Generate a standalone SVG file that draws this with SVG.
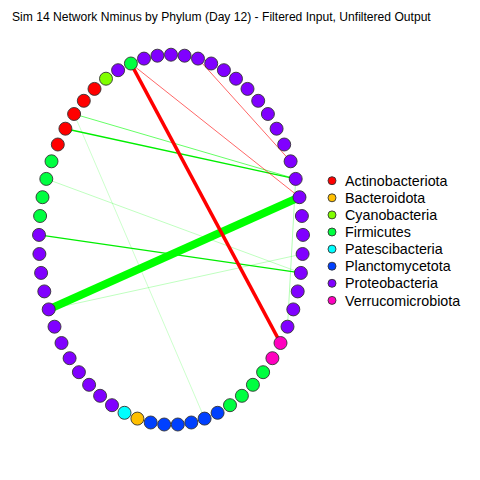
<svg xmlns="http://www.w3.org/2000/svg" width="480" height="480" viewBox="0 0 480 480">
<style>
text{font-family:"Liberation Sans",Arial,sans-serif;fill:#000}
.title{font-size:12.1px}
.leg{font-size:14.3px}
.n circle{stroke:#333;stroke-width:0.9}
.A{fill:#FF0000}.B{fill:#FFBF00}.C{fill:#80FF00}.F{fill:#00FF40}.P{fill:#00FFFF}.L{fill:#0040FF}.R{fill:#8000FF}.V{fill:#FF00BF}
.e{fill:none;stroke-linecap:butt}
</style>
<rect width="480" height="480" fill="#fff"/>
<text class="title" x="12" y="21">Sim 14 Network Nminus by Phylum (Day 12) - Filtered Input, Unfiltered Output</text>
<g id="edges">
<line class="e" x1="74.1" y1="114.0" x2="204.6" y2="418.6" stroke="#00FF00" stroke-opacity="0.2" stroke-width="1"/>
<line class="e" x1="46.3" y1="178.9" x2="300.9" y2="272.9" stroke="#00FF00" stroke-opacity="0.25" stroke-width="1"/>
<line class="e" x1="48.7" y1="309.4" x2="302.6" y2="254.0" stroke="#00FF00" stroke-opacity="0.25" stroke-width="1"/>
<line class="e" x1="295.7" y1="178.9" x2="287.5" y2="326.7" stroke="#00FF00" stroke-opacity="0.3" stroke-width="1"/>
<line class="e" x1="74.1" y1="114.0" x2="295.7" y2="178.9" stroke="#00FF00" stroke-opacity="0.6" stroke-width="1"/>
<line class="e" x1="65.4" y1="128.7" x2="295.7" y2="178.9" stroke="#00EE00" stroke-width="1.4"/>
<line class="e" x1="39.0" y1="234.9" x2="300.9" y2="272.9" stroke="#00EE00" stroke-width="1.4"/>
<line class="e" x1="198.0" y1="58.6" x2="290.6" y2="161.3" stroke="#FF0000" stroke-opacity="0.75" stroke-width="0.8"/>
<line class="e" x1="130.9" y1="63.5" x2="299.5" y2="197.2" stroke="#FF0000" stroke-opacity="0.75" stroke-width="0.8"/>
<line class="e" x1="48.7" y1="309.4" x2="299.5" y2="197.2" stroke="#00FF00" stroke-width="8"/>
<line class="e" x1="130.9" y1="63.5" x2="280.5" y2="343.0" stroke="#FF0000" stroke-width="3.6"/>
</g>
<g id="nodes" class="n">
<g id="n0"><circle class="R" cx="171.0" cy="54.7" r="6.5"/></g>
<g id="n1"><circle class="R" cx="184.6" cy="55.7" r="6.5"/></g>
<g id="n2"><circle class="R" cx="198.0" cy="58.6" r="6.5"/></g>
<g id="n3"><circle class="R" cx="211.2" cy="63.5" r="6.5"/></g>
<g id="n4"><circle class="R" cx="223.9" cy="70.2" r="6.5"/></g>
<g id="n5"><circle class="R" cx="236.0" cy="78.7" r="6.5"/></g>
<g id="n6"><circle class="R" cx="247.5" cy="88.9" r="6.5"/></g>
<g id="n7"><circle class="R" cx="258.2" cy="100.8" r="6.5"/></g>
<g id="n8"><circle class="R" cx="267.9" cy="114.0" r="6.5"/></g>
<g id="n9"><circle class="R" cx="276.6" cy="128.7" r="6.5"/></g>
<g id="n10"><circle class="R" cx="284.2" cy="144.5" r="6.5"/></g>
<g id="n11"><circle class="R" cx="290.6" cy="161.3" r="6.5"/></g>
<g id="n12"><circle class="R" cx="295.7" cy="178.9" r="6.5"/></g>
<g id="n13"><circle class="R" cx="299.5" cy="197.2" r="6.5"/></g>
<g id="n14"><circle class="R" cx="301.9" cy="216.0" r="6.5"/></g>
<g id="n15"><circle class="R" cx="303.0" cy="234.9" r="6.5"/></g>
<g id="n16"><circle class="R" cx="302.6" cy="254.0" r="6.5"/></g>
<g id="n17"><circle class="R" cx="300.9" cy="272.9" r="6.5"/></g>
<g id="n18"><circle class="R" cx="297.7" cy="291.4" r="6.5"/></g>
<g id="n19"><circle class="R" cx="293.3" cy="309.4" r="6.5"/></g>
<g id="n20"><circle class="R" cx="287.5" cy="326.7" r="6.5"/></g>
<g id="n21"><circle class="V" cx="280.5" cy="343.0" r="6.5"/></g>
<g id="n22"><circle class="V" cx="272.4" cy="358.2" r="6.5"/></g>
<g id="n23"><circle class="F" cx="263.1" cy="372.2" r="6.5"/></g>
<g id="n24"><circle class="F" cx="252.9" cy="384.8" r="6.5"/></g>
<g id="n25"><circle class="F" cx="241.9" cy="395.8" r="6.5"/></g>
<g id="n26"><circle class="F" cx="230.0" cy="405.2" r="6.5"/></g>
<g id="n27"><circle class="L" cx="217.6" cy="412.8" r="6.5"/></g>
<g id="n28"><circle class="L" cx="204.6" cy="418.6" r="6.5"/></g>
<g id="n29"><circle class="L" cx="191.3" cy="422.5" r="6.5"/></g>
<g id="n30"><circle class="L" cx="177.8" cy="424.5" r="6.5"/></g>
<g id="n31"><circle class="L" cx="164.2" cy="424.5" r="6.5"/></g>
<g id="n32"><circle class="L" cx="150.7" cy="422.5" r="6.5"/></g>
<g id="n33"><circle class="B" cx="137.4" cy="418.6" r="6.5"/></g>
<g id="n34"><circle class="P" cx="124.5" cy="412.8" r="6.5"/></g>
<g id="n35"><circle class="R" cx="112.0" cy="405.2" r="6.5"/></g>
<g id="n36"><circle class="R" cx="100.1" cy="395.8" r="6.5"/></g>
<g id="n37"><circle class="R" cx="89.1" cy="384.8" r="6.5"/></g>
<g id="n38"><circle class="R" cx="78.9" cy="372.2" r="6.5"/></g>
<g id="n39"><circle class="R" cx="69.6" cy="358.2" r="6.5"/></g>
<g id="n40"><circle class="R" cx="61.5" cy="343.0" r="6.5"/></g>
<g id="n41"><circle class="R" cx="54.5" cy="326.7" r="6.5"/></g>
<g id="n42"><circle class="R" cx="48.7" cy="309.4" r="6.5"/></g>
<g id="n43"><circle class="R" cx="44.3" cy="291.4" r="6.5"/></g>
<g id="n44"><circle class="R" cx="41.1" cy="272.9" r="6.5"/></g>
<g id="n45"><circle class="R" cx="39.4" cy="254.0" r="6.5"/></g>
<g id="n46"><circle class="R" cx="39.0" cy="234.9" r="6.5"/></g>
<g id="n47"><circle class="F" cx="40.1" cy="216.0" r="6.5"/></g>
<g id="n48"><circle class="F" cx="42.5" cy="197.2" r="6.5"/></g>
<g id="n49"><circle class="F" cx="46.3" cy="178.9" r="6.5"/></g>
<g id="n50"><circle class="F" cx="51.5" cy="161.3" r="6.5"/></g>
<g id="n51"><circle class="A" cx="57.8" cy="144.5" r="6.5"/></g>
<g id="n52"><circle class="A" cx="65.4" cy="128.7" r="6.5"/></g>
<g id="n53"><circle class="A" cx="74.1" cy="114.0" r="6.5"/></g>
<g id="n54"><circle class="A" cx="83.8" cy="100.8" r="6.5"/></g>
<g id="n55"><circle class="A" cx="94.5" cy="88.9" r="6.5"/></g>
<g id="n56"><circle class="C" cx="106.0" cy="78.7" r="6.5"/></g>
<g id="n57"><circle class="R" cx="118.1" cy="70.2" r="6.5"/></g>
<g id="n58"><circle class="F" cx="130.9" cy="63.5" r="6.5"/></g>
<g id="n59"><circle class="R" cx="144.0" cy="58.6" r="6.5"/></g>
<g id="n60"><circle class="R" cx="157.4" cy="55.7" r="6.5"/></g>
</g>
<g id="legend" class="n">
<circle class="A" cx="332" cy="180.7" r="4"/><text class="leg" x="345" y="185.8">Actinobacteriota</text>
<circle class="B" cx="332" cy="197.8" r="4"/><text class="leg" x="345" y="202.9">Bacteroidota</text>
<circle class="C" cx="332" cy="214.9" r="4"/><text class="leg" x="345" y="220.0">Cyanobacteria</text>
<circle class="F" cx="332" cy="232.0" r="4"/><text class="leg" x="345" y="237.1">Firmicutes</text>
<circle class="P" cx="332" cy="249.1" r="4"/><text class="leg" x="345" y="254.2">Patescibacteria</text>
<circle class="L" cx="332" cy="266.2" r="4"/><text class="leg" x="345" y="271.3">Planctomycetota</text>
<circle class="R" cx="332" cy="283.3" r="4"/><text class="leg" x="345" y="288.4">Proteobacteria</text>
<circle class="V" cx="332" cy="300.4" r="4"/><text class="leg" x="345" y="305.5">Verrucomicrobiota</text>
</g>
</svg>
